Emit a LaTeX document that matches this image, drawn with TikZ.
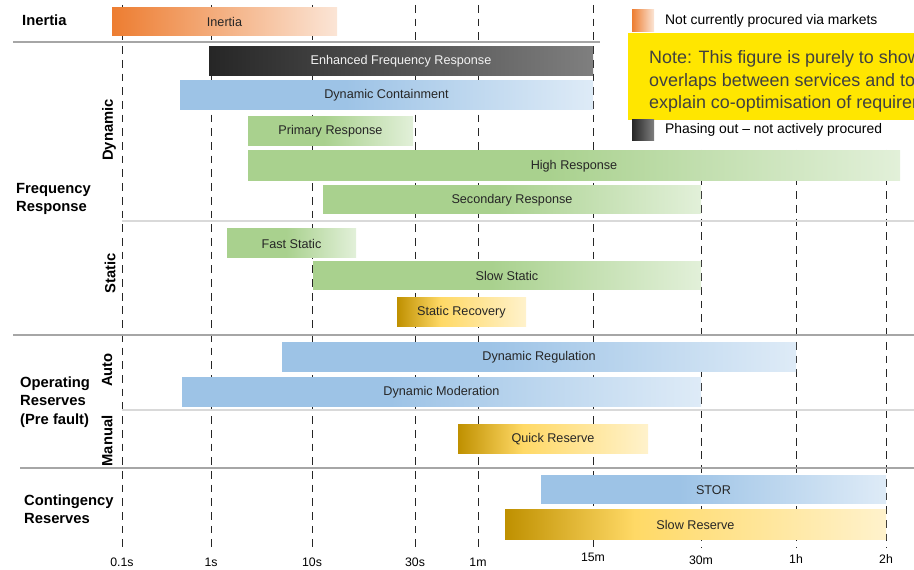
\documentclass[tikz,border=0pt]{standalone}
\usepackage{fontspec}
\setmainfont{Liberation Sans}
\usetikzlibrary{positioning}
\definecolor{inertiaorange}{HTML}{ED7D31}
\definecolor{inertiapale}{HTML}{FBE5D6}
\definecolor{efrdark}{HTML}{262626}
\definecolor{efrgray}{HTML}{7F7F7F}
\definecolor{dcblue}{HTML}{9DC3E6}
\definecolor{dcpale}{HTML}{DEEBF7}
\definecolor{frgreen}{HTML}{A9D18E}
\definecolor{frpale}{HTML}{E2F0D9}
\definecolor{golddark}{HTML}{BF9000}
\definecolor{goldmid}{HTML}{FFD966}
\definecolor{goldpale}{HTML}{FFF2CC}
\definecolor{noteyellow}{HTML}{FFE600}
\definecolor{notetext}{HTML}{404040}
\definecolor{maingray}{HTML}{A6A6A6}
\definecolor{subgray}{HTML}{D9D9D9}
\pgfdeclarehorizontalshading{goldshade}{100bp}{color(0bp)=(golddark); color(25bp)=(golddark); color(42bp)=(goldmid); color(75bp)=(goldpale); color(100bp)=(goldpale)}
\pgfdeclarehorizontalshading{blueshade}{100bp}{color(0bp)=(dcblue); color(25bp)=(dcblue); color(45bp)=(dcblue); color(75bp)=(dcpale); color(100bp)=(dcpale)}
\pgfdeclarehorizontalshading{greenshade}{100bp}{color(0bp)=(frgreen); color(25bp)=(frgreen); color(48bp)=(frgreen); color(75bp)=(frpale); color(100bp)=(frpale)}

\begin{document}
\begin{tikzpicture}[x=0.02cm, y=-0.02cm,
    barlabel/.style={font=\fontsize{7.2}{8}\selectfont, text=efrdark},
    orangebar/.style={left color=inertiaorange, right color=inertiapale, draw=none},
    blackbar/.style={left color=efrdark, right color=efrgray, draw=none},
    bluebar/.style={shading=blueshade, draw=none},
    greenbar/.style={shading=greenshade, draw=none},
    goldbar/.style={shading=goldshade, draw=none},
    grouplabel/.style={font=\fontsize{8.4}{10.5}\bfseries\selectfont, align=left, anchor=west},
    sublabel/.style={font=\fontsize{8.4}{10}\bfseries\selectfont, rotate=90},
    ticklabel/.style={font=\fontsize{7}{8}\selectfont},
    timeline/.style={efrdark, dash pattern=on 4.4pt off 3.4pt, line width=0.55pt},
    mainsep/.style={maingray, line width=0.85pt},
    subsep/.style={subgray, line width=0.6pt}]
  \useasboundingbox (0,0) rectangle (914,570);
  \clip (0,0) rectangle (914,570);

  % time axis
  \foreach \xpos/\ytop/\ylbl/\lbl/\nm in {122/5/562/0.1s/tPointOne, 211/5/562/1s/tOneS, 312/5/562/10s/tTenS,
      415/5/562/30s/tThirtyS, 478/5/562/1m/tOneM, 593/5/557/15m/tFifteenM,
      701/150/560/30m/tThirtyM, 796/150/559/1h/tOneH, 886/150/559/2h/tTwoH} {
    \draw[timeline] (\xpos,\ytop) -- (\xpos,548);
    \node[ticklabel] (\nm) at (\xpos,\ylbl) {\lbl};
  }

  % separators
  \draw[mainsep] (13,42) -- (600,42);
  \draw[subsep] (122,221) -- (914,221);
  \draw[mainsep] (13,335) -- (914,335);
  \draw[subsep] (122,410) -- (914,410);
  \draw[mainsep] (20,468) -- (914,468);

  % services
  \draw[orangebar] (112,8) rectangle (337,36) node[midway, barlabel] (inertia) {Inertia};
  \draw[blackbar] (209,47) rectangle (593,76) node[midway, barlabel, text=white!95!black] (efr) {Enhanced Frequency Response};
  \draw[bluebar] (180,81) rectangle (593,110) node[midway, barlabel] (dc) {Dynamic Containment};
  \draw[greenbar] (248,117) rectangle (413,146) node[midway, barlabel] (primary) {Primary Response};
  \draw[greenbar] (248,151) rectangle (900,181) node[midway, barlabel] (high) {High Response};
  \draw[greenbar] (323,186) rectangle (701,214) node[midway, barlabel] (secondary) {Secondary Response};
  \draw[greenbar] (227,229) rectangle (356,258) node[midway, barlabel] (faststatic) {Fast Static};
  \draw[greenbar] (313,262) rectangle (701,290) node[midway, barlabel] (slowstatic) {Slow Static};
  \draw[goldbar] (397,298) rectangle (526,327) node[midway, barlabel] (staticrec) {Static Recovery};
  \draw[bluebar] (282,343) rectangle (796,372) node[midway, barlabel] (dr) {Dynamic Regulation};
  \draw[bluebar] (182,378) rectangle (701,407) node[midway, barlabel] (dm) {Dynamic Moderation};
  \draw[goldbar] (458,425) rectangle (648,454) node[midway, barlabel] (quick) {Quick Reserve};
  \draw[bluebar] (541,476) rectangle (886,504) node[midway, barlabel] (stor) {STOR};
  \draw[goldbar] (505,510) rectangle (886,540) node[midway, barlabel] (slowres) {Slow Reserve};

  % row labels
  \node[grouplabel] (inertialbl) at (16,20) {Inertia};
  \node[grouplabel] (freqlbl) at (10,199) {Frequency\\Response};
  \node[grouplabel] (oplbl) at (14,402) {Operating\\Reserves\\(Pre fault)};
  \node[grouplabel] (contlbl) at (18,509) {Contingency\\Reserves};
  \node[sublabel] (dynlbl) at (109,130) {Dynamic};
  \node[sublabel] (statlbl) at (110,273) {Static};
  \node[sublabel] (autolbl) at (107,370) {Auto};
  \node[sublabel] (manlbl) at (107,441) {Manual};

  % legend
  \fill[orangebar] (632,10) rectangle (654,32);
  \node[anchor=west, font=\fontsize{7.9}{9}\selectfont] (legorange) at (659,21) {Not currently procured via markets};
  \fill[noteyellow] (628,33) rectangle (914,120);
  \node[anchor=north west, align=left, text=notetext, font=\fontsize{10.2}{13}\selectfont] (note) at (643,44)
    {Note: This figure is purely to show\\overlaps between services and to\\explain co-optimisation of requirements};
  \fill[blackbar] (632,120) rectangle (654,141);
  \node[anchor=west, font=\fontsize{7.9}{9}\selectfont] (legblack) at (659,130) {Phasing out -- not actively procured};
\end{tikzpicture}
\end{document}
